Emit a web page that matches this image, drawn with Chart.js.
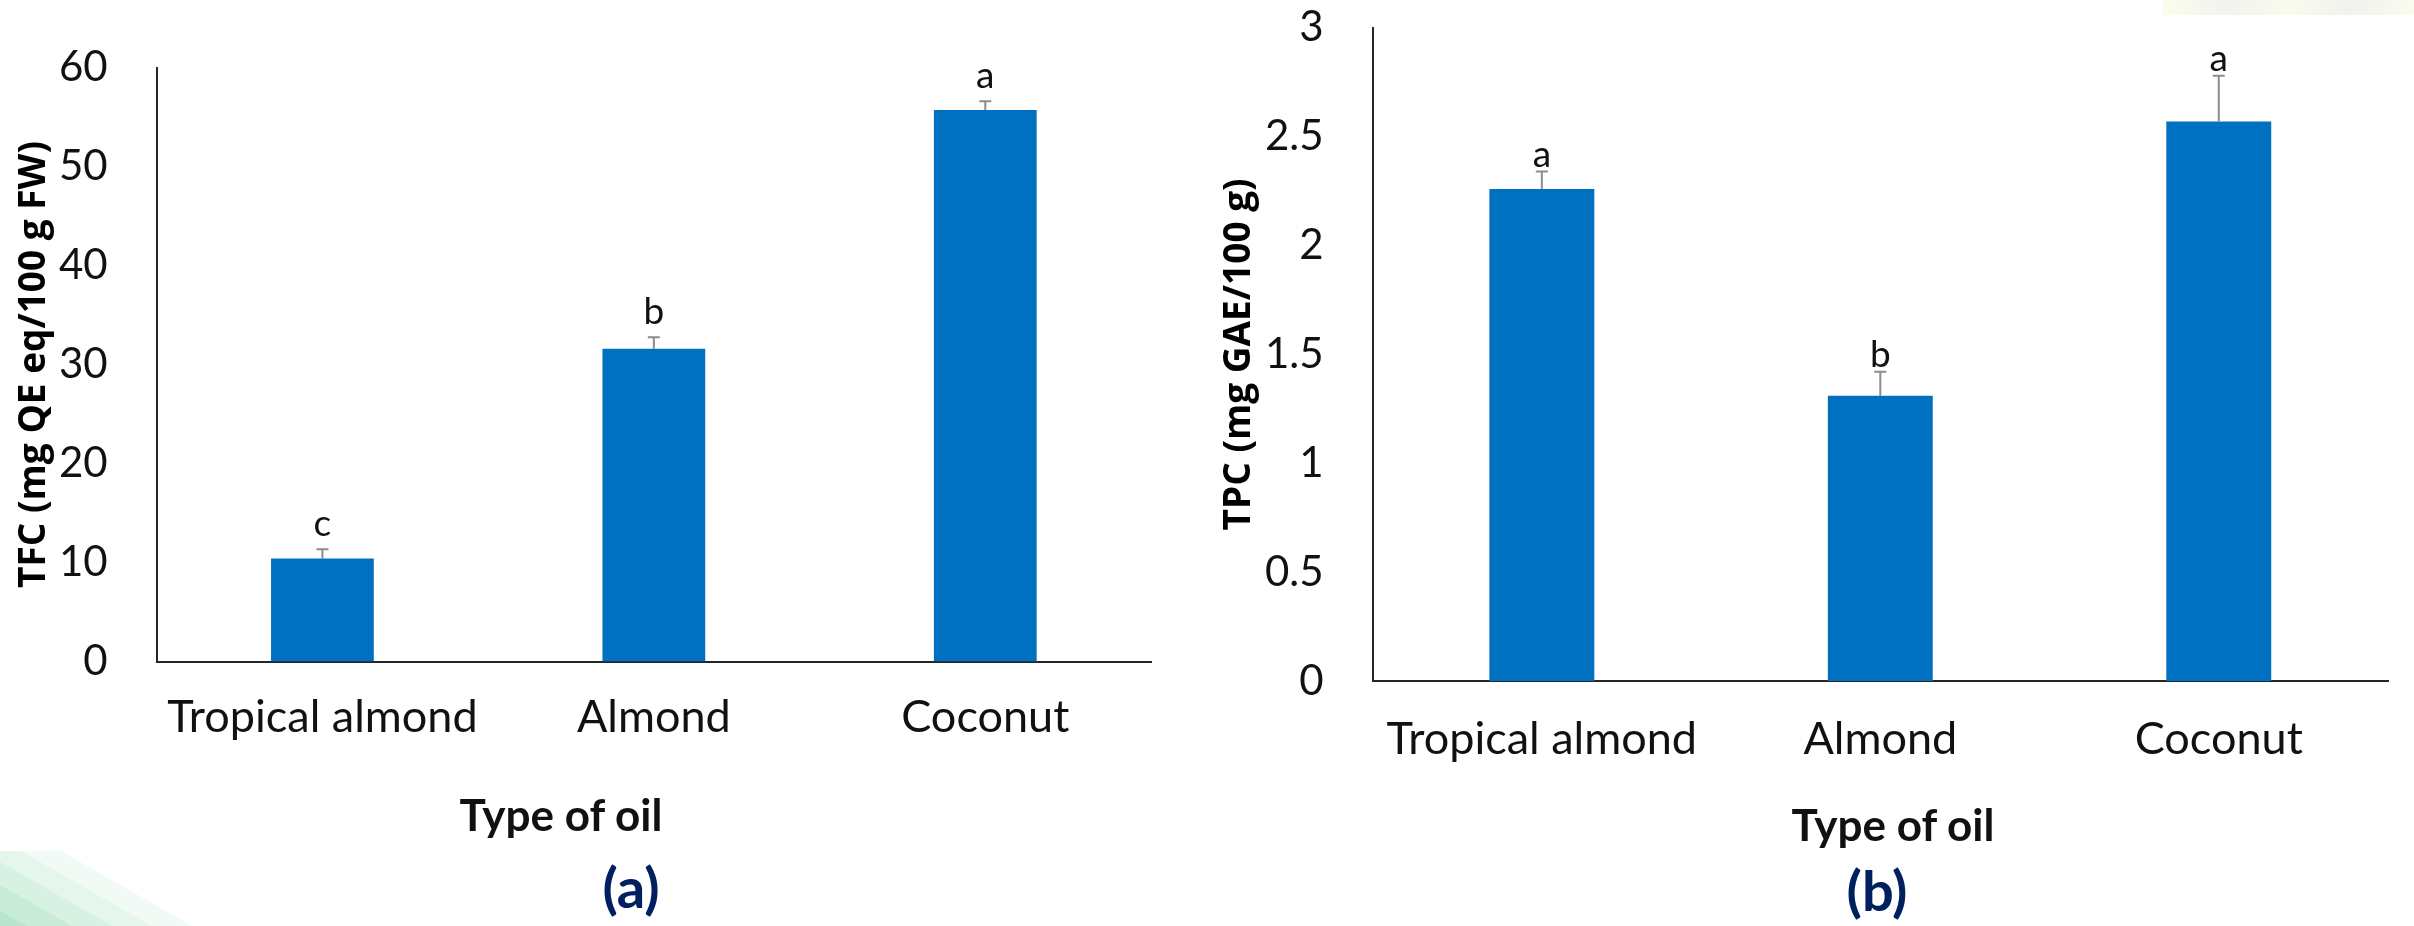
<!DOCTYPE html>
<html>
<head>
<meta charset="utf-8">
<script src="https://cdn.jsdelivr.net/npm/chart.js@4.4.1/dist/chart.umd.min.js"></script>
<style>
  html, body { margin: 0; padding: 0; background: #fff; }
  body { width: 2414px; height: 926px; position: relative; overflow: hidden; font-family: Lato, sans-serif; }
  .box { position: absolute; top: 0; height: 926px; }
  #boxA { left: 0; width: 1190px; }
  #boxB { left: 1190px; width: 1224px; }
  .lbl { position: absolute; transform: translate(-50%, -50%); white-space: nowrap; line-height: 1; font-weight: 700; }
  .axt { font-size: 44px; color: #111; }
  .pan { font-size: 56px; color: #002060; }
  #deco { position: absolute; left: 0; top: 0; }
  #mark { position: absolute; left: 2163px; top: 0; width: 251px; height: 15px;
          background: linear-gradient(90deg, #fcfcee 0%, #f2f3ef 25%, #fafaee 50%, #f1f2ee 75%, #fbfbee 100%); }
</style>
</head>
<body>
<svg id="deco" width="2414" height="926">
  <polygon points="-300,851 61,851 192,926 -300,926" fill="#f2faf5"/>
  <polygon points="-300,851 21,851 152,926 -300,926" fill="#e5f6ec"/>
  <polygon points="-300,851 -19,851 112,926 -300,926" fill="#d7f1e2"/>
  <polygon points="-300,851 -59,851 72,926 -300,926" fill="#c8ebd8"/>
  <polygon points="-300,851 -104,851 27,926 -300,926" fill="#b8e5cc"/>
</svg>
<div id="mark"></div>
<div class="box" id="boxA"><canvas id="chartA"></canvas></div>
<div class="box" id="boxB"><canvas id="chartB"></canvas></div>
<div class="lbl axt" style="left:561px; top:814px">Type of oil</div>
<div class="lbl pan" style="left:631px; top:887px">(a)</div>
<div class="lbl axt" style="left:1893px; top:824px">Type of oil</div>
<div class="lbl pan" style="left:1877px; top:890px">(b)</div>
<script>
const oils = ["Tropical almond", "Almond", "Coconut"];

// (a) total flavonoid content
const tfcMean = [10.4, 31.6, 55.7];
const tfcErr = [0.95, 1.15, 0.9];
const tfcLetters = ["c", "b", "a"];
const tfcTicks = [0, 10, 20, 30, 40, 50, 60];

// (b) total phenolic content
const tpcMean = [2.26, 1.31, 2.57];
const tpcErr = [0.08, 0.11, 0.21];
const tpcLetters = ["a", "b", "a"];
const tpcTicks = [0, 0.5, 1, 1.5, 2, 2.5, 3];

// upper error bars + significance letters
const errorBars = {
  id: "errorBars",
  afterDatasetsDraw(chart, args, opts) {
    const ctx = chart.ctx;
    const y = chart.scales.y;
    const vals = chart.data.datasets[0].data;
    chart.getDatasetMeta(0).data.forEach((bar, i) => {
      const top = y.getPixelForValue(vals[i] + opts.err[i]);
      ctx.save();
      ctx.strokeStyle = "#8c8c8c";
      ctx.lineWidth = 2;
      ctx.beginPath();
      ctx.moveTo(bar.x, bar.y);
      ctx.lineTo(bar.x, top);
      ctx.moveTo(bar.x - 6, top);
      ctx.lineTo(bar.x + 6, top);
      ctx.stroke();
      ctx.fillStyle = "#111";
      ctx.font = "37px Lato";
      ctx.textAlign = "center";
      ctx.textBaseline = "alphabetic";
      ctx.fillText(opts.letters[i], bar.x, top - opts.gap);
      ctx.restore();
    });
  }
};

function makeChart(id, c) {
  const axisLine = { display: true, color: "#262626", width: 2 };
  return new Chart(document.getElementById(id), {
    type: "bar",
    data: {
      labels: oils,
      datasets: [{
        data: c.mean,
        backgroundColor: "#0070c0",
        categoryPercentage: 1,
        barPercentage: 0.31
      }]
    },
    plugins: [errorBars],
    options: {
      responsive: true,
      maintainAspectRatio: false,
      animation: false,
      layout: { padding: c.pad },
      plugins: {
        legend: { display: false },
        tooltip: { enabled: false },
        errorBars: { err: c.err, letters: c.letters, gap: c.gap }
      },
      scales: {
        x: {
          z: 1,
          grid: { display: false },
          border: axisLine,
          ticks: { color: "#111", font: { family: "Lato", size: 45 }, padding: c.xpad, maxRotation: 0, autoSkip: false },
          afterFit: s => { s.height = c.xh; }
        },
        y: {
          min: 0,
          max: c.ticks[c.ticks.length - 1],
          grid: { display: false },
          border: axisLine,
          ticks: { color: "#111", font: { family: "Lato", size: 42 }, padding: 41, callback: v => String(v) },
          afterBuildTicks: s => { s.ticks = c.ticks.map(v => ({ value: v })); },
          afterFit: s => {
            s.width = c.yw;
            // keep the tick padding from pushing the plot area down
            s.paddingTop = 20;
            s.paddingBottom = 20;
          },
          title: {
            display: true,
            text: c.title,
            color: "#000",
            font: { family: "Open Sans", weight: "bold", size: 37 },
            padding: 0
          }
        }
      }
    }
  });
}

makeChart("chartA", {
  mean: tfcMean, err: tfcErr, letters: tfcLetters, ticks: tfcTicks, gap: 13,
  title: "TFC (mg QE eq/100 g FW)",
  pad: { left: 12, top: 67.5, right: 39, bottom: 0 },
  xh: 264.5, yw: 144.7, xpad: 21
});

makeChart("chartB", {
  mean: tpcMean, err: tpcErr, letters: tpcLetters, ticks: tpcTicks, gap: 5,
  title: "TPC (mg GAE/100 g)",
  pad: { left: 27, top: 27.8, right: 26, bottom: 0 },
  xh: 245, yw: 155.6, xpad: 23
});
</script>
</body>
</html>
